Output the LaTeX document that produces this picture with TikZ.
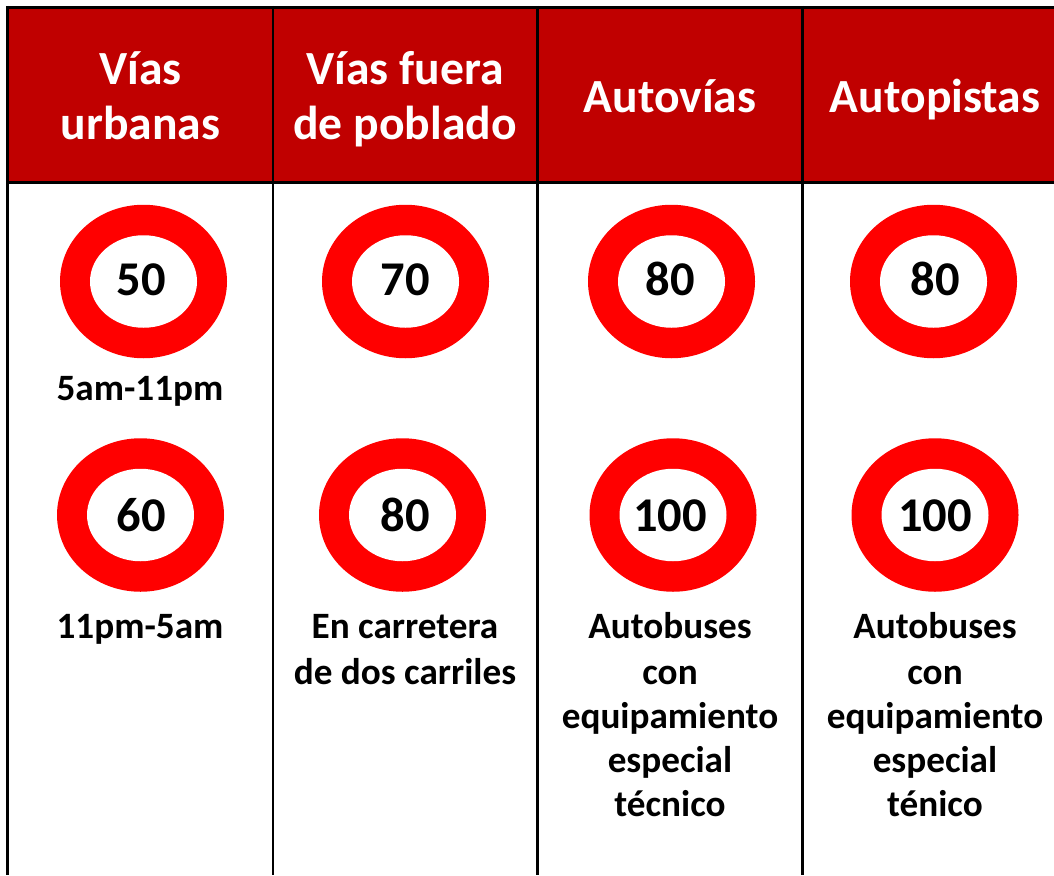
\documentclass[tikz,border=0pt]{standalone}
\usepackage{fontspec}
\setmainfont{Carlito}[BoldFont={Carlito Bold}]
\usetikzlibrary{shapes.geometric}
\definecolor{headred}{RGB}{192,0,0}
\tikzset{
 x=1pt,y=-1pt,
 gridline/.style={line width=2.6pt,black},
 head/.style={anchor=base,inner sep=0pt,text=white,font=\fontsize{47.6}{55}\selectfont\bfseries},
 ringout/.style={ellipse,fill=red,draw=none,inner sep=0pt,minimum width=167pt,minimum height=153.5pt},
 ringin/.style={ellipse,fill=white,draw=none,inner sep=0pt,minimum width=107pt,minimum height=92.5pt},
 num/.style={anchor=base,inner sep=0pt,text=black,font=\fontsize{48.5}{48}\selectfont\bfseries},
 lab/.style={anchor=base,inner sep=0pt,text=black,font=\fontsize{37.2}{44}\selectfont\bfseries},
}
\newcommand{\sign}[3]{%
 \node[ringout] (o#1) at (#2,#3) {};
 \node[ringin] (i#1) at (#2,#3) {};
}
\begin{document}
\begin{tikzpicture}
\useasboundingbox (0,0) rectangle (1054,875);
\fill[white] (0,0) rectangle (1054,875);
\fill[headred] (7.5,7.3) rectangle (1054,182.7);
\draw[gridline] (6.2,7.3) -- (1054,7.3);
\draw[gridline] (6.2,182.7) -- (1054,182.7);
\foreach \x in {7.5,273,537.7,802.5} \draw[gridline] (\x,6) -- (\x,875);
% headers
\node[head] (h1a) at (140.5,84) {Vías};
\node[head] (h1b) at (140.5,139.5) {urbanas};
\node[head] (h2a) at (405,84) {Vías fuera};
\node[head] (h2b) at (405,139.5) {de poblado};
\node[head] (h3) at (670,112) {Autovías};
\node[head] (h4) at (935,112) {Autopistas};
% signs
\sign{a}{143.5}{281.5}
\sign{b}{140.5}{515}
\sign{c}{405.5}{281.5}
\sign{d}{402.5}{515}
\sign{e}{671.5}{281.5}
\sign{f}{673}{515}
\sign{g}{933.5}{281.5}
\sign{h}{935}{515}
% numbers
\node[num] (na) at (141,295.5) {50};
\node[num] (nb) at (141,531.5) {60};
\node[num] (nc) at (405,295.5) {70};
\node[num] (nd) at (405,531.5) {80};
\node[num] (ne) at (670,295.5) {80};
\node[num] (nf) at (670,531.5) {100};
\node[num] (ng) at (935,295.5) {80};
\node[num] (nh) at (935,531.5) {100};
% labels
\node[lab] (l1) at (140,400) {5am-11pm};
\node[lab] (l2) at (140,638) {11pm-5am};
\node[lab] (l3) at (405,638) {En carretera};
\node[lab] (l4) at (405,684) {de dos carriles};
\node[lab] (l5) at (670,638) {Autobuses};
\node[lab] (l6) at (670,684) {con};
\node[lab] (l7) at (670,728) {equipamiento};
\node[lab] (l8) at (670,772) {especial};
\node[lab] (l9) at (670,816) {técnico};
\node[lab] (m5) at (935,638) {Autobuses};
\node[lab] (m6) at (935,684) {con};
\node[lab] (m7) at (935,728) {equipamiento};
\node[lab] (m8) at (935,772) {especial};
\node[lab] (m9) at (935,816) {ténico};
\end{tikzpicture}
\end{document}
